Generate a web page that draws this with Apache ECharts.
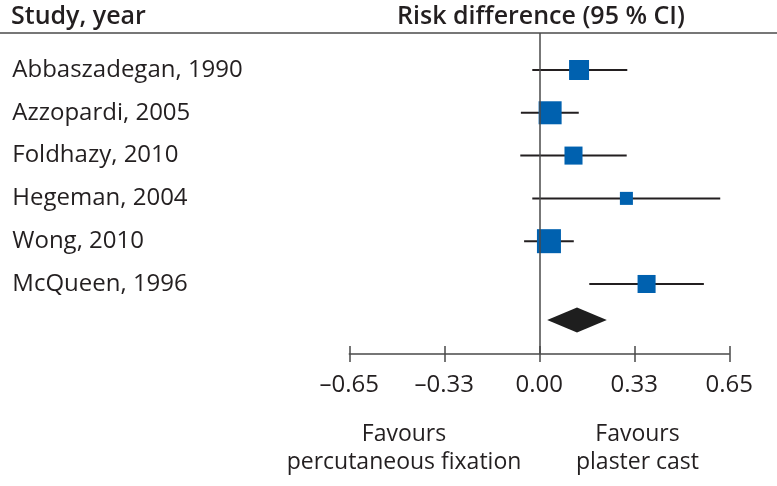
<!DOCTYPE html>
<html>
<head>
<meta charset="utf-8">
<script src="https://cdn.jsdelivr.net/npm/echarts@6/dist/echarts.min.js"></script>
<style>
html,body{margin:0;padding:0;background:#fff;}
#chart{width:777px;height:486px;}
</style>
</head>
<body>
<div id="chart"></div>
<script>
// ---- data ----
const studies = ['Abbaszadegan, 1990', 'Azzopardi, 2005', 'Foldhazy, 2010', 'Hegeman, 2004', 'Wong, 2010', 'McQueen, 1996'];
const estimates = [0.136, 0.037, 0.117, 0.298, 0.033, 0.367];
const lowerCI = [-0.024, -0.063, -0.065, -0.024, -0.052, 0.171];
const upperCI = [0.301, 0.135, 0.299, 0.619, 0.118, 0.563];
const weights = [17.2, 22.8, 14.0, 7.3, 24.8, 14.0];
const pooledEstimate = 0.129;
const pooledLower = 0.027;
const pooledUpper = 0.231;
const tickValues = [-0.65, -0.325, 0, 0.325, 0.65];
const tickLabels = ['\u20130.65', '\u20130.33', '0.00', '0.33', '0.65'];
const headerLeft = 'Study, year';
const headerRight = 'Risk difference (95 % CI)';
const favoursLeft = 'Favours\npercutaneous fixation';
const favoursRight = 'Favours\nplaster cast';

// ---- layout ----
const FONT = '"Open Sans", "Noto Sans", sans-serif';
const TXT = '#231f20';
const AX = '#4a4a4a';
const rows = studies.map((s, i) => i + 1);
const pooledRow = 6.84;

const chart = echarts.init(document.getElementById('chart'), null, {renderer: 'canvas'});

const ciData = studies.map((s, i) => [lowerCI[i], upperCI[i], rows[i]]);
const sqData = studies.map((s, i) => [estimates[i], rows[i], weights[i]]);

const xCommon = {
  type: 'value', min: -0.65, max: 0.65, interval: 0.325,
  position: 'bottom', splitLine: {show: false}
};

const option = {
  animation: false,
  backgroundColor: '#fff',
  grid: {left: 349.3, right: 47.7, top: 33, bottom: 132, containLabel: false},
  xAxis: [
    Object.assign({}, xCommon, {
      axisLine: {show: true, lineStyle: {color: AX, width: 1.5}},
      axisTick: {show: true, inside: false, length: 8, lineStyle: {color: AX, width: 1.5}},
      axisLabel: {
        show: true, margin: 19, fontFamily: FONT, fontSize: 24, color: TXT,
        formatter: function (v) {
          const k = tickValues.findIndex(t => Math.abs(t - v) < 1e-6);
          return k >= 0 ? tickLabels[k] : '';
        }
      }
    }),
    Object.assign({}, xCommon, {
      axisLine: {show: false},
      axisTick: {show: true, inside: true, length: 8, lineStyle: {color: AX, width: 1.5}},
      axisLabel: {show: false}
    })
  ],
  yAxis: {
    type: 'value', inverse: true, min: 0.136, max: 7.636,
    axisLine: {show: false}, axisTick: {show: false}, splitLine: {show: false},
    axisLabel: {
      show: true, customValues: rows, align: 'left', margin: 337,
      fontFamily: FONT, fontSize: 24, color: TXT,
      formatter: function (v) {
        const k = Math.round(v) - 1;
        return studies[k] || '';
      }
    }
  },
  series: [
    {
      type: 'custom', name: 'CI', xAxisIndex: 0, yAxisIndex: 0, z: 2,
      data: ciData,
      encode: {x: [0, 1], y: 2},
      renderItem: function (params, api) {
        const a = api.coord([api.value(0), api.value(2)]);
        const b = api.coord([api.value(1), api.value(2)]);
        return {type: 'line', shape: {x1: a[0], y1: a[1], x2: b[0], y2: b[1]},
          style: {stroke: '#231f20', lineWidth: 2}};
      },
      markLine: {
        silent: true, symbol: 'none', label: {show: false},
        lineStyle: {color: AX, width: 1.5, type: 'solid'},
        data: [{xAxis: 0}]
      }
    },
    {
      type: 'scatter', name: 'Estimate', z: 3,
      symbol: 'rect',
      symbolSize: function (v) { return Math.sqrt(v[2]) * 4.82; },
      itemStyle: {color: '#0061af', opacity: 1},
      data: sqData
    },
    {
      type: 'custom', name: 'Pooled', z: 3,
      data: [[pooledLower, pooledEstimate, pooledUpper, pooledRow]],
      encode: {x: [0, 1, 2], y: 3},
      renderItem: function (params, api) {
        const l = api.coord([api.value(0), api.value(3)]);
        const m = api.coord([api.value(1), api.value(3)]);
        const r = api.coord([api.value(2), api.value(3)]);
        const h = 12.5;
        return {type: 'polygon', shape: {points: [[l[0], l[1]], [m[0], m[1] - h], [r[0], r[1]], [m[0], m[1] + h]]},
          style: {fill: '#1e1e1e'}};
      }
    }
  ],
  graphic: [
    {type: 'line', shape: {x1: 0, y1: 33, x2: 777, y2: 33}, style: {stroke: AX, lineWidth: 1.5}},
    {type: 'text', x: 11, y: 17, style: {text: headerLeft, font: '600 25px ' + FONT, fill: TXT, textAlign: 'left', textVerticalAlign: 'middle'}},
    {type: 'text', x: 541, y: 17, style: {text: headerRight, font: '600 25px ' + FONT, fill: TXT, textAlign: 'center', textVerticalAlign: 'middle'}},
    {type: 'text', x: 404, y: 420, style: {text: favoursLeft, font: '23px ' + FONT, lineHeight: 28, fill: TXT, textAlign: 'center', textVerticalAlign: 'top'}},
    {type: 'text', x: 637.5, y: 420, style: {text: favoursRight, font: '23px ' + FONT, lineHeight: 28, fill: TXT, textAlign: 'center', textVerticalAlign: 'top'}}
  ]
};
chart.setOption(option);
</script>
</body>
</html>
